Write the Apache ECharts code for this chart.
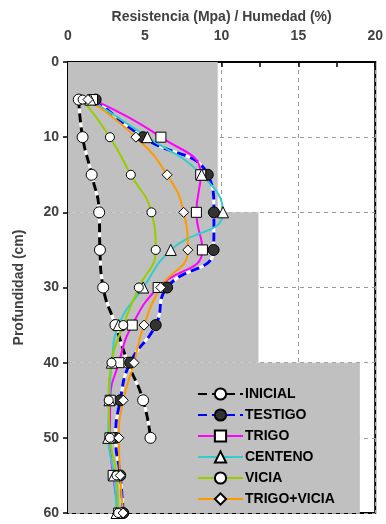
<!DOCTYPE html>
<html><head><meta charset="utf-8">
<script src="https://cdn.jsdelivr.net/npm/echarts@6/dist/echarts.min.js"></script>
<style>html,body{margin:0;padding:0;background:#fff}#c{width:386px;height:524px}</style>
</head><body><div id="c"></div>
<script>
const depths = [5,10,15,20,25,30,35,40,45,50,55,60];
const inicial = [0.7,0.95,1.54,2.03,2.08,2.29,3.09,3.9,4.89,5.37];
const testigo = [1.8,4.89,9.1,9.5,9.48,6.45,5.71,4.05,3.4,3.1,3.4,3.6];
const trigo = [1.6,6.05,8.64,8.36,8.75,5.87,4.18,3.31,2.75,2.73,2.94,3.3];
const centeno = [1.45,5.17,8.7,10.09,6.69,4.9,3.3,2.85,2.7,2.62,3.0,3.16];
const vicia = [0.95,2.73,4.09,5.43,5.71,4.61,3.6,2.83,2.65,2.73,3.16,3.27];
const trigoVicia = [1.3,4.42,6.45,7.53,7.8,6.04,4.95,4.3,3.6,3.31,3.4,3.59];
const xTicks = [0,5,10,15,20];
const yTicks = [0,10,20,30,40,50,60];
// grey background zones: [depth from, depth to, resistance up to]
const zones = [[0,20,9.75],[20,40,12.4],[40,60,19]];

const pts = arr => arr.map((v,i)=>[v, depths[i]]);
const F = '"Liberation Sans", Arial, sans-serif';

function mk(name, vals, color, symbol, size, fill, width, dashed) {
  const out = [];
  if (dashed) {
    out.push({type:'line', name:name+'_base', data:pts(vals), smooth:true, showSymbol:false, silent:true,
      lineStyle:{color:'#fff', width:width}, z:3});
  }
  out.push({type:'line', name:name, data:pts(vals), smooth:true, symbol:symbol, symbolSize:size,
    showAllSymbol:true,
    itemStyle:{color:fill, borderColor:'#000', borderWidth:1},
    lineStyle:{color:color, width:width, type: dashed ? [9,5] : 'solid'}, z:4});
  return out;
}

const series = [
  {type:'line', name:'zones', data:[], silent:true, z:-1,
   markArea:{silent:true, itemStyle:{color:'#c0c0c0'},
     data: zones.map(z=>[{coord:[0,z[0]]},{coord:[z[2],z[1]]}])}},
  ...mk('INICIAL', inicial, '#000', 'circle', 11, '#fff', 3, true),
  ...mk('TESTIGO', testigo, '#0000ff', 'circle', 11, '#333', 3, true),
  ...mk('TRIGO', trigo, '#ff00ff', 'rect', 10, '#fff', 2, false),
  ...mk('CENTENO', centeno, '#33cccc', 'triangle', 11, '#fff', 2, false),
  ...mk('VICIA', vicia, '#99cc00', 'circle', 9, '#fff', 2, false),
  ...mk('TRIGO+VICIA', trigoVicia, '#ff9900', 'diamond', 10, '#fff', 2, false)
];

const chart = echarts.init(document.getElementById('c'));
chart.setOption({
  animation:false,
  backgroundColor:'#fff',
  grid:{left:68, right:10, top:62, bottom:11, show:true, borderColor:'#000', borderWidth:2, backgroundColor:'transparent', z:0},
  legend:{
    orient:'vertical', left:192, top:382, itemWidth:45, itemHeight:14, itemGap:7,
    data:['INICIAL','TESTIGO','TRIGO','CENTENO','VICIA','TRIGO+VICIA'],
    textStyle:{fontFamily:F, fontWeight:'bold', fontSize:14, color:'#000', padding:[0,0,0,-3]}
  },
  xAxis:{type:'value', position:'top', min:xTicks[0], max:xTicks[xTicks.length-1], interval:5,
    name:'Resistencia (Mpa) / Humedad (%)', nameLocation:'middle', nameGap:37,
    nameTextStyle:{fontFamily:F, fontWeight:'bold', fontSize:14, color:'#404040'},
    axisLine:{show:true, lineStyle:{color:'#000', width:2}},
    axisTick:{show:true, inside:true, length:5, lineStyle:{color:'#000', width:1.5}},
    minorTick:{show:true, splitNumber:2, length:5, lineStyle:{color:'#000', width:1.5}},
    axisLabel:{fontFamily:F, fontWeight:'bold', fontSize:14, color:'#404040', margin:19},
    splitLine:{show:true, lineStyle:{color:'#9a9a9a', type:[4,4], width:1}}
  },
  yAxis:{type:'value', inverse:true, min:yTicks[0], max:yTicks[yTicks.length-1], interval:10,
    name:'Profundidad (cm)', nameLocation:'middle', nameGap:42,
    nameTextStyle:{fontFamily:F, fontWeight:'bold', fontSize:14, color:'#404040'},
    axisLine:{show:true, lineStyle:{color:'#000', width:2}},
    axisTick:{show:true, inside:false, length:5, lineStyle:{color:'#000', width:1.5}},
    axisLabel:{fontFamily:F, fontWeight:'bold', fontSize:14, color:'#404040', margin:9},
    splitLine:{show:true, lineStyle:{color:'#9a9a9a', type:[4,4], width:1}}
  },
  series: series
});
</script></body></html>
